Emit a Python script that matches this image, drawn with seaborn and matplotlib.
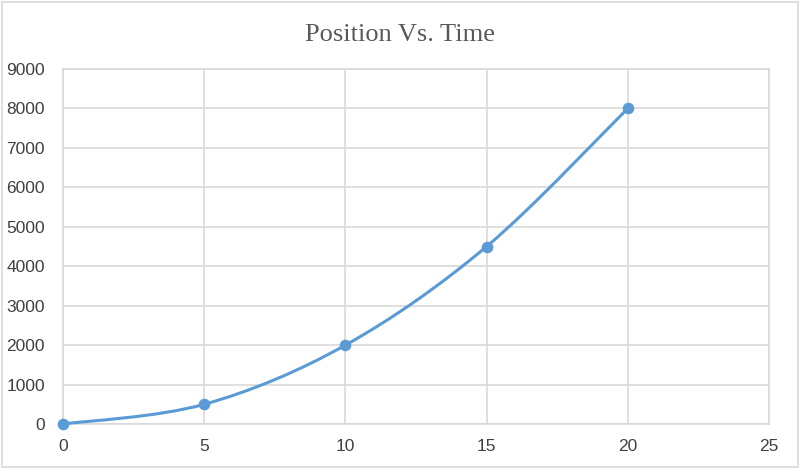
import numpy as np
import pandas as pd
import seaborn as sns
import matplotlib
matplotlib.use("Agg")
import matplotlib.pyplot as plt
from matplotlib.path import Path
from matplotlib.patches import PathPatch, Rectangle

# Data
time = [0, 5, 10, 15, 20]
position = [0, 500, 2000, 4500, 8000]
x_ticks = [0, 5, 10, 15, 20, 25]
y_ticks = [0, 1000, 2000, 3000, 4000, 5000, 6000, 7000, 8000, 9000]
title = "Position Vs. Time"

df = pd.DataFrame({"Time": time, "Position": position})

sns.set_theme(style="white")
plt.rcParams['font.family'] = ['Liberation Sans', 'DejaVu Sans']

color = "#5B9BD5"
grid_c = "#D9D9D9"

fig = plt.figure(figsize=(8, 4.69), dpi=100)
ax = fig.add_axes([0.07875, 0.0959, 0.8825, 0.757])

# Smooth (Excel-like) curve through the data points: Catmull-Rom -> cubic Bezier
xs = np.asarray(df["Time"], float)
ys = np.asarray(df["Position"], float)
n = len(xs)
verts = [(xs[0], ys[0])]
codes = [Path.MOVETO]
t = 1.0 / 6.0
for i in range(n - 1):
    p0 = (xs[max(i - 1, 0)], ys[max(i - 1, 0)])
    p1 = (xs[i], ys[i])
    p2 = (xs[i + 1], ys[i + 1])
    p3 = (xs[min(i + 2, n - 1)], ys[min(i + 2, n - 1)])
    c1 = (p1[0] + (p2[0] - p0[0]) * t, p1[1] + (p2[1] - p0[1]) * t)
    c2 = (p2[0] - (p3[0] - p1[0]) * t, p2[1] - (p3[1] - p1[1]) * t)
    verts += [c1, c2, p2]
    codes += [Path.CURVE4] * 3
ax.add_patch(PathPatch(Path(verts, codes), facecolor="none", edgecolor=color,
                       lw=2.2, zorder=3, capstyle="round", clip_on=False))

sns.scatterplot(data=df, x="Time", y="Position", ax=ax, color=color, s=70,
                edgecolor=color, linewidth=0, zorder=4, clip_on=False)

ax.set_xlim(0, 25)
ax.set_ylim(0, 9000)
ax.set_xticks(x_ticks)
ax.set_yticks(y_ticks)
ax.set_xticklabels([str(v) for v in x_ticks])
ax.set_yticklabels([str(v) for v in y_ticks])
ax.grid(True, color=grid_c, lw=1.2)
ax.set_axisbelow(True)
for s in ax.spines.values():
    s.set_color(grid_c)
    s.set_linewidth(1.2)
ax.tick_params(axis='y', length=0, labelsize=12.5, colors="#404040", pad=13)
ax.tick_params(axis='x', length=0, labelsize=12.5, colors="#404040", pad=11)
ax.set_xlabel("")
ax.set_ylabel("")
ax.margins(0)

fig.text(0.5, 0.925, title, ha="center", va="center", fontsize=19,
         family=["Liberation Serif", "DejaVu Serif"], color="#595959")

fig.patches.append(Rectangle((0.003, 0.004), 0.994, 0.991, transform=fig.transFigure,
                             fill=False, edgecolor="#D9D9D9", lw=1.2))

fig.savefig("out.png", dpi=100)
